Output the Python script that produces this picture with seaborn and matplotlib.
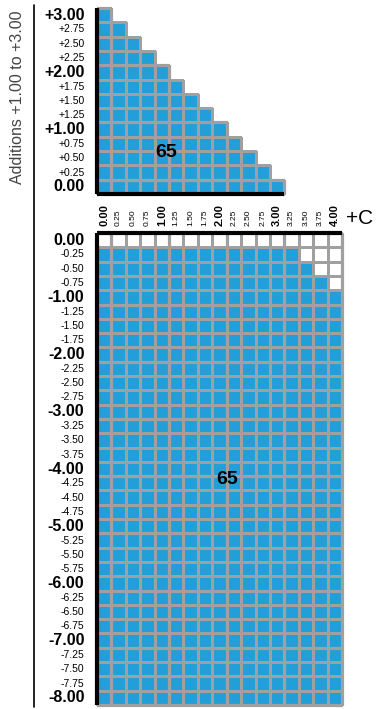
import numpy as np
import pandas as pd
import matplotlib
matplotlib.use("Agg")
import matplotlib.pyplot as plt
from matplotlib.colors import ListedColormap, to_rgba
from matplotlib.lines import Line2D
import seaborn as sns

# ---------------------------------------------------------------
# data
# ---------------------------------------------------------------
cyl_values = [0.00, 0.25, 0.50, 0.75, 1.00, 1.25, 1.50, 1.75, 2.00,
              2.25, 2.50, 2.75, 3.00, 3.25, 3.50, 3.75, 4.00]
add_values = [3.00, 2.75, 2.50, 2.25, 2.00, 1.75, 1.50, 1.25, 1.00,
              0.75, 0.50, 0.25, 0.00]
# highest cylinder available for each addition row
add_max_cyl = [0.00, 0.25, 0.50, 0.75, 1.00, 1.25, 1.50, 1.75, 2.00,
               2.25, 2.50, 2.75, 3.00]
sph_values = [0.00, -0.25, -0.50, -0.75, -1.00, -1.25, -1.50, -1.75, -2.00,
              -2.25, -2.50, -2.75, -3.00, -3.25, -3.50, -3.75, -4.00,
              -4.25, -4.50, -4.75, -5.00, -5.25, -5.50, -5.75, -6.00,
              -6.25, -6.50, -6.75, -7.00, -7.25, -7.50, -7.75, -8.00]
# highest cylinder available for each sphere row (None = not made)
sph_max_cyl = [None, 3.25, 3.50, 3.75] + [4.00] * 29
diameter_label = "65"

BLUE = "#229fd9"
GRID = "#a0a0a0"

sns.set_theme(style="white")
plt.rcParams["font.family"] = ["Liberation Sans", "DejaVu Sans"]
plt.rcParams["text.color"] = "black"
plt.rcParams["xtick.color"] = "black"
plt.rcParams["ytick.color"] = "black"

# availability tables
top_df = pd.DataFrame(
    [[1 if c <= m else 0 for c in cyl_values] for m in add_max_cyl],
    index=add_values, columns=cyl_values)
bot_df = pd.DataFrame(
    [[1 if (m is not None and c <= m) else 0 for c in cyl_values] for m in sph_max_cyl],
    index=sph_values, columns=cyl_values)

W, H = 377, 709
fig = plt.figure(figsize=(W / 100, H / 100), dpi=100)
ax_top = fig.add_axes([97 / W, 1 - 194 / H, 245 / W, 186 / H])
ax_bot = fig.add_axes([97 / W, 1 - 705 / H, 245 / W, 472 / H])

cmap = ListedColormap(["white", BLUE])
sns.heatmap(top_df, mask=top_df == 0, cmap=cmap, vmin=0, vmax=1, cbar=False,
            linewidths=0.75, linecolor=GRID, ax=ax_top)
sns.heatmap(bot_df, cmap=cmap, vmin=0, vmax=1, cbar=False,
            linewidths=0.75, linecolor=GRID, ax=ax_bot)

# no cell edges where the top panel has no lens
mesh = ax_top.collections[0]
edge = [to_rgba(GRID) if v else (0, 0, 0, 0) for v in top_df.values.ravel()]
mesh.set_edgecolors(edge)

n_cols = len(cyl_values)
n_top = len(add_values)
n_bot = len(sph_values)
filled_top = top_df.sum(axis=1).tolist()
first_row_top = [int(np.argmax(top_df[c].values)) for c in cyl_values]

THICK = 2.3
# top panel: thick gray lines on integer additions / cylinders
for r, a in enumerate(add_values):
    if float(a).is_integer():
        ax_top.hlines(r, 0, filled_top[r], color=GRID, lw=THICK, zorder=3)
for j, c in enumerate(cyl_values):
    if float(c).is_integer() and top_df[c].sum() > 0:
        ax_top.vlines(j + 1, first_row_top[j], n_top, color=GRID, lw=THICK, zorder=3)
ax_top.hlines(n_top, 0, filled_top[-1], color="black", lw=3, zorder=4)
ax_top.vlines(0, 0, n_top, color="black", lw=3, zorder=4)

# bottom panel
for r, s in enumerate(sph_values):
    if float(s).is_integer() and s != 0:
        ax_bot.hlines(r + 1, 0, n_cols, color=GRID, lw=THICK, zorder=3)
for j, c in enumerate(cyl_values):
    if float(c).is_integer():
        ax_bot.vlines(j + 1, 0, n_bot, color=GRID, lw=THICK, zorder=3)
ax_bot.hlines(0, 0, n_cols, color="black", lw=3, zorder=4)
ax_bot.vlines(0, 0, n_bot, color="black", lw=3, zorder=4)

for ax in (ax_top, ax_bot):
    ax.set_xlabel("")
    ax.set_ylabel("")
    ax.tick_params(length=0)
    for s in ax.spines.values():
        s.set_visible(False)
    for a in ax.collections:
        a.set_clip_on(False)

# y tick labels
def fmt_add(v):
    return "0.00" if v == 0 else f"+{v:.2f}"

def fmt_sph(v):
    return "0.00" if v == 0 else f"{v:.2f}"

def style_labels(labels, values, big_size, small_size):
    for lab, v in zip(labels, values):
        big = float(v).is_integer()
        lab.set_fontsize(big_size if big else small_size)
        lab.set_fontweight("bold" if big else "normal")

ax_top.set_yticks(np.arange(n_top) + 0.5)
ax_top.set_yticklabels([fmt_add(v) for v in add_values], rotation=0)
style_labels(ax_top.get_yticklabels(), add_values, 11.5, 7.5)
ax_top.tick_params(axis="y", pad=9)
ax_top.set_xticks([])

ax_bot.set_yticks(np.arange(n_bot) + 0.5)
ax_bot.set_yticklabels([fmt_sph(v) for v in sph_values], rotation=0)
style_labels(ax_bot.get_yticklabels(), sph_values, 11.5, 7.5)
ax_bot.tick_params(axis="y", pad=9)

# x tick labels between the panels
ax_bot.xaxis.tick_top()
ax_bot.set_xticks(np.arange(n_cols) + 0.5)
ax_bot.set_xticklabels([f"{c:.2f}" for c in cyl_values], rotation=90)
style_labels(ax_bot.get_xticklabels(), cyl_values, 8, 6)
ax_bot.tick_params(axis="x", pad=5)

# diameter labels
ax_top.text(4.8, 10.1, diameter_label, ha="center", va="center", fontsize=14,
            fontweight="bold", color="black", zorder=5)
ax_bot.text(9.0, 17.2, diameter_label, ha="center", va="center", fontsize=14,
            fontweight="bold", color="black", zorder=5)

fig.text(346 / W, 1 - 218 / H, "+C", ha="left", va="center", fontsize=15,
         color="black")
fig.text(18 / W, 1 - 97 / H, "Additions +1.00 to +3.00", rotation=90,
         ha="center", va="center", fontsize=11.5, color="#444444")
fig.add_artist(Line2D([34 / W, 34 / W], [1 - 707 / H, 1 - 5 / H],
                      color="black", lw=1.2))

fig.savefig("out.png", dpi=100)
